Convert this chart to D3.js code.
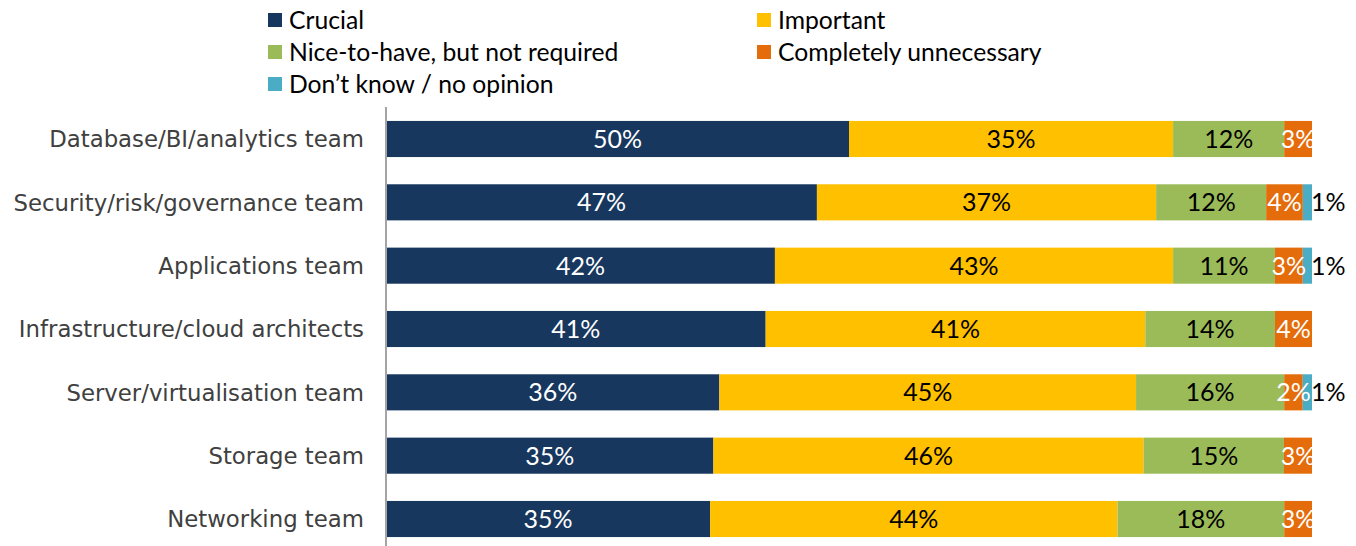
<!DOCTYPE html>
<html><head><meta charset="utf-8">
<script src="https://cdn.jsdelivr.net/npm/d3@7"></script>
<style>
html,body{margin:0;padding:0;background:#fff;overflow:hidden;}
svg{display:block;font-family:Lato, "Open Sans", sans-serif;}
</style></head>
<body>
<svg id="chart" width="1356" height="546"></svg>
<script>
const categories = ["Database/BI/analytics team","Security/risk/governance team","Applications team","Infrastructure/cloud architects","Server/virtualisation team","Storage team","Networking team"];
const seriesNames = ["Crucial","Important","Nice-to-have, but not required","Completely unnecessary","Don\u2019t know / no opinion"];
const crucial     = [50,47,42,41,36,35,35];
const important   = [35,37,43,41,45,46,44];
const niceToHave  = [12,12,11,14,16,15,18];
const unnecessary = [3,4,3,4,2,3,3];
const dontKnow    = [0,1,1,0,1,0,0];
const colors = ["#17375E","#FFC000","#9BBB59","#E46C0A","#4BACC6"];
const labelColors = ["#ffffff","#000000","#000000","#ffffff","#000000"];

const series = [crucial, important, niceToHave, unnecessary, dontKnow];
const svg = d3.select("#chart");

const x = d3.scaleLinear().domain([0,1]).range([386,1312]);
const y = d3.scaleBand().domain(categories).range([107.33,550.67]).paddingInner(0.43).paddingOuter(0.215);

// build stacked rows normalised to 100%
const rows = categories.map((c,i)=>{
  const vals = series.map(s=>s[i]);
  const tot = d3.sum(vals);
  let acc = 0;
  return vals.map((v,k)=>{ const x0 = acc/tot; acc += v; return {cat:c, k, v, x0, x1: acc/tot}; });
});
const segs = rows.flat().filter(d=>d.v>0);

svg.append("g").selectAll("rect").data(segs).join("rect")
  .attr("x", d=>x(d.x0)+ (d.k===0?1:0))
  .attr("y", d=>y(d.cat))
  .attr("width", d=>x(d.x1)-x(d.x0) - (d.k===0?1:0))
  .attr("height", y.bandwidth())
  .attr("fill", d=>colors[d.k]);

svg.append("g").selectAll("text").data(segs).join("text")
  .attr("x", d=> d.k===4 ? x(d.x1)-1 : (x(d.x0)+x(d.x1))/2)
  .attr("y", d=>y(d.cat)+y.bandwidth()/2)
  .attr("dy","0.36em")
  .attr("text-anchor", d=> d.k===4 ? "start" : "middle")
  .attr("font-size", 25)
  .attr("fill", d=>labelColors[d.k])
  .text(d=>d.v+"%");

// axis
const axis = d3.axisLeft(y).tickSize(0).tickPadding(22);
const ag = svg.append("g").attr("transform","translate(386,0)").call(axis);
ag.select(".domain").attr("stroke","#868686").attr("stroke-width",1.5).attr("d","M0,107V546");
ag.selectAll("text").attr("font-size",22.8).attr("fill","#404040").attr("font-family","'DejaVu Sans', sans-serif").attr("dy","0.36em");

// legend
const legendPos = [[268,20],[757,20],[268,52],[757,52],[268,84]];
const lg = svg.append("g").selectAll("g").data(seriesNames).join("g")
  .attr("transform",(d,i)=>`translate(${legendPos[i][0]},${legendPos[i][1]})`);
lg.append("rect").attr("x",0).attr("y",-7).attr("width",14).attr("height",14).attr("fill",(d,i)=>colors[i]);
lg.append("text").attr("x",21).attr("y",0).attr("dy","0.36em").attr("font-size",24.7).attr("fill","#000").text(d=>d);
</script>
</body></html>
